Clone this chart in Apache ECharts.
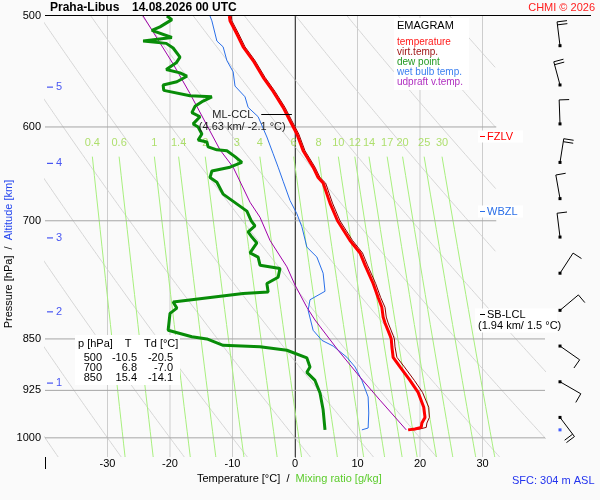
<!DOCTYPE html>
<html>
<head>
<meta charset="utf-8">
<script src="https://cdn.jsdelivr.net/npm/echarts@6/dist/echarts.min.js"></script>
<style>
  html, body { margin: 0; padding: 0; background: #fafafa; }
  #chart { width: 600px; height: 500px; }
</style>
</head>
<body>
<div id="chart"></div>
<script>
// ---- sounding data ----
var tempP = [500, 504, 515, 526, 538, 553, 566, 581, 594, 607, 624, 641, 652, 658, 680, 700, 723, 738, 753, 776, 794, 807, 820, 828, 845, 850, 861, 876, 890, 910, 928, 951, 967, 976, 983, 985.5, 987];
var tempT = [-10.5, -10.4, -9.3, -8.3, -6.7, -5.1, -3.5, -1.9, -0.8, 0.3, 1.3, 2.9, 3.7, 4.5, 5.6, 6.8, 8.8, 10.4, 11.2, 12.5, 13.3, 13.9, 14.1, 14.4, 15.2, 15.4, 15.5, 15.7, 16.8, 18.4, 19.7, 20.6, 20.8, 20.3, 20.2, 19.2, 18.1];
var virtT = [-10.2, -10.1, -9.0, -8.0, -6.4, -4.8, -3.2, -1.6, -0.5, 0.6, 1.6, 3.2, 4.0, 4.9, 6.0, 7.2, 9.2, 10.8, 11.6, 12.9, 13.7, 14.4, 14.6, 14.9, 15.7, 15.9, 16.0, 16.3, 17.5, 19.1, 20.4, 21.4, 21.5, 21.1, 21.0, 20.0, 18.9];

var dewP = [500, 503, 509, 512, 518, 521, 523, 527, 535, 540, 546, 549, 552, 557, 560, 565, 570, 571, 575, 580, 586, 590, 597, 600, 607, 613, 615, 620, 623, 624, 630, 636, 641, 645, 652, 657, 670, 689, 700, 706, 713, 719, 726, 738, 743, 753, 757, 768, 776, 787, 789, 800, 808, 815, 838, 847, 850, 859, 861, 866, 877, 890, 898, 910, 929, 955, 987];
var dewT = [-20.5, -19.7, -21.6, -22.9, -19.7, -24.3, -20.6, -19.5, -18.4, -19.0, -20.6, -18.4, -17.3, -18.9, -21.1, -21.0, -16.8, -13.3, -14.7, -16.0, -16.5, -15.2, -16.3, -15.5, -14.9, -15.5, -14.1, -13.9, -12.5, -10.9, -9.6, -8.5, -10.4, -13.3, -13.6, -12.5, -11.5, -7.7, -7.0, -6.4, -7.5, -6.9, -6.1, -7.2, -5.9, -5.6, -2.4, -2.7, -4.5, -4.3, -8.3, -19.5, -18.9, -20.0, -20.3, -16.5, -14.1, -11.5, -5.6, -1.3, 1.9, 2.4, 1.9, 3.2, 4.0, 4.5, 4.8];

var wetP = [500, 504, 521, 526, 538, 548, 561, 571, 581, 590, 610, 627, 641, 656, 677, 692, 707, 731, 743, 763, 786, 797, 811, 838, 852, 860, 876, 890, 910, 935, 960, 984, 987];
var wetT = [-13.6, -13.3, -12.5, -11.5, -10.9, -9.9, -9.6, -8.0, -7.5, -5.9, -4.5, -3.5, -2.7, -1.9, -0.8, 0.3, 1.1, 1.9, 3.5, 4.5, 4.8, 2.4, 2.1, 2.9, 4.3, 6.1, 8.3, 9.6, 10.7, 11.7, 11.8, 11.7, 10.7];

var upP = [500, 541, 568, 623, 641, 679, 696, 723, 755, 778, 807, 824, 866, 905, 940, 987];
var upT = [-24.3, -19.5, -16.8, -12.0, -9.9, -7.2, -5.6, -4.0, -1.3, 0.0, 1.9, 3.2, 6.9, 10.4, 13.6, 17.8];

// wind barbs: pressure, direction (deg), speed (kt)
var windP = [525, 560, 597, 636, 675, 719, 763, 811, 860, 912, 967];
var windDir = [353, 345, 358, 9, 350, 353, 33, 50, 125, 120, 143];
var windSpd = [20, 20, 10, 20, 10, 10, 10, 10, 10, 10, 20];
var sfcP = 987;

// altitude marks
var altKm = [1, 2, 3, 4, 5];
var altP = [914, 813, 720, 637, 562];

// levels
var levelNames = ['FZLV', 'WBZL', 'SB-LCL'];
var levelP = [609, 689, 816];
var levelNotes = ['', '', '(1.94 km/ 1.5 °C)'];
var cclName = 'ML-CCL';
var cclP = 587;
var cclNote = '(4.63 km/ -2.1 °C)';

// small table
var tableP = [500, 700, 850];
var tableT = [-10.5, 6.8, 15.4];
var tableTd = [-20.5, -7.0, -14.1];

// diagram background
var pressureTicks = [500, 600, 700, 850, 925, 1000];
var isobars = [600, 700, 850, 925, 1000];
var isotherms = [-30, -20, -10, 0, 10, 20, 30];
var thetaLines = [-40, -30, -20, -10, 0, 10, 20, 30, 40, 50, 60, 70, 80, 90];
var mixRatios = [0.4, 0.6, 1, 1.4, 2, 3, 4, 6, 8, 10, 12, 14, 17, 20, 25, 30];

// ---- layout / style ----
var FONT = '"Liberation Sans", Arial, sans-serif';
var P_TOP = 500, P_BOT = 1032, T_MIN = -40, T_MAX = 40;
var BARB_X = 42.4;          // x position of the barb column, in deg C units
var MIX_TOP = 630, MIX_LABEL = 616;
var LEVEL_COLORS = ['#ff0000', '#2a6fe8', '#000000'];

function pairs(ps, ts) {
  return ps.map(function (p, i) { return [ts[i], p]; });
}

function line(data, color, width, z) {
  return {
    type: 'line', data: data, symbol: 'none', silent: true, animation: false,
    lineStyle: { color: color, width: width }, z: z || 2
  };
}

// dry adiabat and saturation mixing ratio (grid lines of the emagram)
function dryT(thetaC, p) {
  return (thetaC + 273.15) * Math.pow(p / 1000, 0.2857) - 273.15;
}
function mixT(w, p) {
  var e = w * p / (622 + w);
  var l = Math.log(e / 6.112);
  return 243.5 * l / (17.67 - l);
}
// upper right corner is kept free of grid lines
function inFrame(t, p) {
  return t <= 41 && !(t > 32.2 && p < 842);
}

var series = [];

// dry adiabats
thetaLines.forEach(function (th) {
  var seg = [];
  for (var p = P_TOP; p <= P_BOT; p += 2) {
    var t = dryT(th, p);
    if (inFrame(t, p)) {
      seg.push([t, p]);
    } else {
      if (seg.length > 1) series.push(line(seg, '#d6d6d6', 1, 1));
      seg = [];
    }
  }
  if (seg.length > 1) series.push(line(seg, '#d6d6d6', 1, 1));
});

// isotherms
isotherms.forEach(function (t) {
  series.push(line([[t, P_TOP], [t, P_BOT]], t === 0 ? '#8c8c8c' : '#cdcdcd', 1, 1));
});

// mixing ratio lines
mixRatios.forEach(function (w) {
  var d = [];
  for (var p = MIX_TOP; p < P_BOT; p += 20) d.push([mixT(w, p), p]);
  d.push([mixT(w, P_BOT), P_BOT]);
  series.push(line(d, '#a8ef7e', 1, 1));
});

// isobars
isobars.forEach(function (p) {
  series.push(line([[T_MIN, p], [p < 842 ? 32.2 : T_MAX, p]], '#a6a6a6', 1, 1));
});

// mixing ratio labels
series.push({
  type: 'scatter', silent: true, animation: false, symbolSize: 1,
  itemStyle: { color: 'rgba(0,0,0,0)' },
  data: mixRatios.map(function (w) { return [mixT(w, MIX_TOP), MIX_LABEL, w]; }),
  label: {
    show: true, position: 'inside', color: '#9bd84a', fontSize: 11, fontFamily: FONT,
    formatter: function (p) { return String(p.value[2]); }
  }, z: 3
});

// altitude marks
series.push({
  type: 'scatter', silent: true, animation: false, symbol: 'rect', symbolSize: [6, 1.2],
  itemStyle: { color: '#1a2cf0' },
  data: altP.map(function (p, i) { return [-39.2, p, altKm[i]]; }),
  label: {
    show: true, position: 'right', distance: 3, color: '#1a2cf0', fontSize: 11, fontFamily: FONT,
    formatter: function (p) { return String(p.value[2]); }
  }, z: 3
});

// profiles
series.push(line(pairs(tempP, virtT), '#8b0000', 1, 4));
series.push(line(pairs(tempP, tempT), '#ff0000', 3, 5));
series.push(line(pairs(wetP, wetT), '#2a6fe8', 1, 4));
series.push(line(pairs(upP, upT), '#a000a8', 1, 4));
series.push(line(pairs(dewP, dewT), '#088c08', 3, 5));

// level annotations
series.push({
  type: 'custom', silent: true, animation: false, clip: false, z: 6,
  data: levelP.map(function (p) { return [29.6, p]; }),
  renderItem: function (params, api) {
    var i = params.dataIndex;
    var pt = api.coord([api.value(0), api.value(1)]);
    var x = Math.round(pt[0]), y = Math.round(pt[1]) + 0.5;
    var note = levelNotes[i];
    var kids = [
      { type: 'rect', shape: note ? { x: x - 5, y: y - 6, width: 82, height: 24 } : { x: x - 2, y: y - 6, width: 45, height: 12 },
        style: { fill: '#ffffff' } },
      { type: 'line', shape: { x1: x, y1: y, x2: x + 5, y2: y }, style: { stroke: LEVEL_COLORS[i], lineWidth: 1 } },
      { type: 'text', x: x + 7, y: y, style: { text: levelNames[i], fill: LEVEL_COLORS[i], font: '11px ' + FONT, align: 'left', verticalAlign: 'middle' } }
    ];
    if (note) {
      kids.push({ type: 'text', x: x - 2, y: y + 11, style: { text: note, fill: '#000', font: '11px ' + FONT, align: 'left', verticalAlign: 'middle' } });
    }
    return { type: 'group', children: kids };
  }
});

// ML-CCL mark
series.push({
  type: 'custom', silent: true, animation: false, clip: false, z: 6,
  data: [[-5.4, cclP, -0.5]],
  renderItem: function (params, api) {
    var a = api.coord([api.value(0), api.value(1)]);
    var b = api.coord([api.value(2), api.value(1)]);
    var y = Math.round(a[1]) + 0.5;
    return {
      type: 'group', children: [
        { type: 'line', shape: { x1: a[0], y1: y, x2: b[0], y2: y }, style: { stroke: '#000', lineWidth: 1 } },
        { type: 'text', x: a[0] - 8, y: y, style: { text: cclName, fill: '#222', font: '11px ' + FONT, align: 'right', verticalAlign: 'middle' } },
        { type: 'text', x: a[0] - 19, y: y + 12, style: { text: cclNote, fill: '#222', font: '11px ' + FONT, align: 'center', verticalAlign: 'middle' } }
      ]
    };
  }
});

// wind barbs
series.push({
  type: 'custom', silent: true, animation: false, clip: false, z: 6,
  data: windP.map(function (p, i) { return [BARB_X, p, windDir[i], windSpd[i]]; }),
  renderItem: function (params, api) {
    var pt = api.coord([api.value(0), api.value(1)]);
    var d = api.value(2) * Math.PI / 180;
    var spd = api.value(3);
    var L = 24, B = 10;
    var ux = Math.sin(d), uy = -Math.cos(d);
    var px = Math.cos(d), py = Math.sin(d);
    var tx = pt[0] + ux * L, ty = pt[1] + uy * L;
    var kids = [{ type: 'line', shape: { x1: pt[0], y1: pt[1], x2: tx, y2: ty }, style: { stroke: '#000', lineWidth: 1 } }];
    var pos = 0, s = spd;
    while (s >= 10) {
      var bx = tx - ux * pos, by = ty - uy * pos;
      kids.push({ type: 'line', shape: { x1: bx, y1: by, x2: bx + px * B, y2: by + py * B }, style: { stroke: '#000', lineWidth: 1 } });
      pos += 3; s -= 10;
    }
    if (s >= 5) {
      var hx = tx - ux * pos, hy = ty - uy * pos;
      kids.push({ type: 'line', shape: { x1: hx, y1: hy, x2: hx + px * B / 2, y2: hy + py * B / 2 }, style: { stroke: '#000', lineWidth: 1 } });
    }
    kids.push({ type: 'rect', shape: { x: pt[0] - 1.5, y: pt[1] - 1.5, width: 3, height: 3 }, style: { fill: '#000' } });
    return { type: 'group', children: kids };
  }
});

// surface marker
series.push({
  type: 'scatter', silent: true, animation: false, clip: false, symbol: 'rect', symbolSize: 3,
  itemStyle: { color: '#1133ff' }, data: [[BARB_X, sfcP]], z: 6
});

// ---- text blocks ----
var graphics = [
  { type: 'line', shape: { x1: 45, y1: 15.5, x2: 591, y2: 15.5 }, style: { stroke: '#000', lineWidth: 1 }, z: 50 },
  { type: 'line', shape: { x1: 45.5, y1: 457, x2: 45.5, y2: 469 }, style: { stroke: '#000', lineWidth: 1 }, z: 50 },
  { type: 'text', x: 50, y: 8, style: { text: 'Praha-Libus', fill: '#000', font: 'bold 12px ' + FONT, verticalAlign: 'middle' }, z: 50 },
  { type: 'text', x: 132, y: 8, style: { text: '14.08.2026 00 UTC', fill: '#000', font: 'bold 12px ' + FONT, verticalAlign: 'middle' }, z: 50 },
  { type: 'text', x: 595, y: 8, style: { text: 'CHMI © 2026', fill: '#ff2020', font: '11px ' + FONT, align: 'right', verticalAlign: 'middle' }, z: 50 },
  { type: 'text', x: 197, y: 479, style: { text: '{a|Temperature [°C]  /  }{b|Mixing ratio [g/kg]}', font: '11px ' + FONT, verticalAlign: 'middle',
      rich: { a: { fill: '#000', font: '11px ' + FONT }, b: { fill: '#5ccc2c', font: '11px ' + FONT } } }, z: 50 },
  { type: 'text', x: 512, y: 481, style: { text: 'SFC: 304 m ASL', fill: '#2233ee', font: '11px ' + FONT, verticalAlign: 'middle' }, z: 50 },
  { type: 'text', x: 9, y: 254, rotation: Math.PI / 2, style: { text: '{a|Pressure [hPa]  /  }{b|Altitude [km]}', font: '11px ' + FONT,
      align: 'center', verticalAlign: 'middle',
      rich: { a: { fill: '#000', font: '11px ' + FONT }, b: { fill: '#2244ee', font: '11px ' + FONT } } }, z: 50 },
  // legend box
  { type: 'rect', shape: { x: 394, y: 18, width: 75, height: 72 }, style: { fill: '#ffffff' }, z: 40 },
  { type: 'text', x: 397, y: 26, style: { text: 'EMAGRAM', fill: '#000', font: '11px ' + FONT, verticalAlign: 'middle' }, z: 50 },
  // table box
  { type: 'rect', shape: { x: 75, y: 335, width: 105, height: 50 }, style: { fill: '#ffffff' }, z: 40 },
  { type: 'text', x: 78, y: 344, style: { text: 'p [hPa]', fill: '#000', font: '11px ' + FONT, verticalAlign: 'middle' }, z: 50 },
  { type: 'text', x: 128, y: 344, style: { text: 'T', fill: '#000', font: '11px ' + FONT, align: 'center', verticalAlign: 'middle' }, z: 50 },
  { type: 'text', x: 144, y: 344, style: { text: 'Td [°C]', fill: '#000', font: '11px ' + FONT, verticalAlign: 'middle' }, z: 50 }
];

var legendItems = [
  ['temperature', '#ff1a1a'], ['virt.temp.', '#a01818'], ['dew point', '#229922'],
  ['wet bulb temp.', '#3a7ff0'], ['udpraft v.temp.', '#b030c0']
];
legendItems.forEach(function (it, i) {
  graphics.push({ type: 'text', x: 397, y: 42 + i * 10, style: { text: it[0], fill: it[1], font: '10px ' + FONT, verticalAlign: 'middle' }, z: 50 });
});

tableP.forEach(function (p, i) {
  var y = 358 + i * 10;
  graphics.push({ type: 'text', x: 102, y: y, style: { text: String(p), fill: '#000', font: '11px ' + FONT, align: 'right', verticalAlign: 'middle' }, z: 50 });
  graphics.push({ type: 'text', x: 137, y: y, style: { text: tableT[i].toFixed(1), fill: '#000', font: '11px ' + FONT, align: 'right', verticalAlign: 'middle' }, z: 50 });
  graphics.push({ type: 'text', x: 173, y: y, style: { text: tableTd[i].toFixed(1), fill: '#000', font: '11px ' + FONT, align: 'right', verticalAlign: 'middle' }, z: 50 });
});

var chart = echarts.init(document.getElementById('chart'));

var option = {
  backgroundColor: '#fafafa',
  animation: false,
  grid: { left: 45, top: 16, width: 500, height: 441 },
  xAxis: {
    type: 'value', min: T_MIN, max: T_MAX, interval: 10,
    axisLine: { show: false }, axisTick: { show: false }, splitLine: { show: false },
    axisLabel: {
      margin: 1, color: '#000', fontSize: 11, fontFamily: FONT,
      formatter: function (v) { return (v <= T_MIN || v >= T_MAX) ? '' : String(v); }
    }
  },
  yAxis: {
    type: 'log', logBase: 10, min: P_TOP, max: P_BOT, inverse: true,
    axisLine: { show: true, lineStyle: { color: '#000', width: 1 } },
    axisTick: { show: false }, splitLine: { show: false }, minorTick: { show: false },
    axisLabel: {
      customValues: pressureTicks, margin: 4, color: '#000', fontSize: 11, fontFamily: FONT,
      formatter: function (v) { return String(Math.round(v)); }
    }
  },
  series: series,
  graphic: { elements: graphics }
};

chart.setOption(option);
</script>
</body>
</html>
